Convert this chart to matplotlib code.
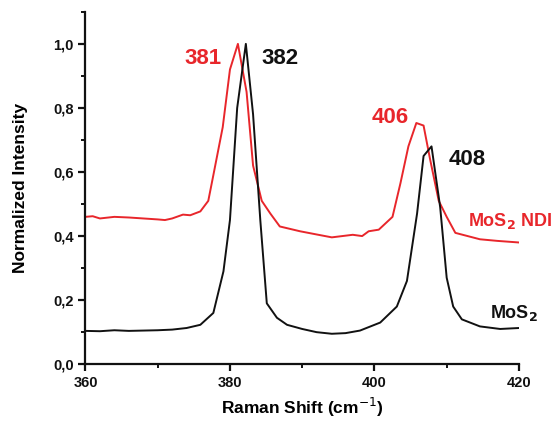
import matplotlib

matplotlib.use("Agg")
import matplotlib.pyplot as plt  # noqa: E402
from matplotlib.ticker import FuncFormatter, MultipleLocator  # noqa: E402

plt.rcParams["font.family"] = ["Liberation Sans", "DejaVu Sans"]

# MoS2 (black) spectrum
mos2_x = [360, 362, 364, 366, 368, 370, 372, 374, 375.9, 377.7, 379.1, 380.0, 381.0,
          382.2, 383.2, 384.2, 385.1, 386.5, 387.9, 390, 392, 394.1, 396, 398, 400.8,
          403.1, 404.5, 405.9, 406.8, 407.9, 409.1, 410.0, 410.9, 412.1, 414.6, 417.4, 420]
mos2_y = [0.104, 0.103, 0.106, 0.104, 0.105, 0.106, 0.108, 0.113, 0.123, 0.16, 0.29, 0.45,
          0.80, 1.00, 0.78, 0.45, 0.19, 0.145, 0.123, 0.11, 0.10, 0.095, 0.097, 0.105, 0.13,
          0.18, 0.26, 0.47, 0.65, 0.68, 0.49, 0.27, 0.18, 0.14, 0.118, 0.11, 0.113]

# MoS2 NDI (red) spectrum
ndi_x = [360, 361, 362, 364, 366, 368, 370, 371, 372, 373.5, 374.5, 375.9, 377.0, 377.7,
         379.0, 380.0, 381.1, 382.3, 383.2, 384.4, 385.6, 386.9, 389.7, 392, 394.1, 397.0,
         398.3, 399.2, 400.6, 402.5, 403.6, 404.7, 405.8, 406.8, 407.7, 408.9, 410.0,
         411.2, 414.6, 417, 420]
ndi_y = [0.46, 0.462, 0.455, 0.46, 0.458, 0.455, 0.452, 0.45, 0.455, 0.467, 0.465, 0.477,
         0.51, 0.59, 0.74, 0.92, 1.00, 0.85, 0.62, 0.51, 0.47, 0.43, 0.415, 0.405, 0.396,
         0.404, 0.40, 0.415, 0.42, 0.46, 0.565, 0.68, 0.753, 0.745, 0.64, 0.51, 0.46, 0.41,
         0.39, 0.385, 0.38]

RED = "#e8262b"
INK = "#111111"

fig = plt.figure(figsize=(5.55, 4.23), dpi=100)
ax = fig.add_axes([0.154, 0.139, 0.781, 0.833])

ax.plot(ndi_x, ndi_y, color=RED, lw=1.4)
ax.plot(mos2_x, mos2_y, color=INK, lw=1.4)

ax.set_xlim(360, 420)
ax.set_ylim(0, 1.1)
ax.xaxis.set_major_locator(MultipleLocator(20))
ax.xaxis.set_minor_locator(MultipleLocator(10))
ax.yaxis.set_major_locator(MultipleLocator(0.2))
ax.yaxis.set_minor_locator(MultipleLocator(0.1))
ax.yaxis.set_major_formatter(FuncFormatter(lambda v, _: f"{v:.1f}".replace(".", ",")))

for sp in ("top", "right"):
    ax.spines[sp].set_visible(False)
for sp in ("left", "bottom"):
    ax.spines[sp].set_linewidth(1.6)
    ax.spines[sp].set_color(INK)
ax.tick_params(which="major", direction="out", length=5, width=1.6, labelsize=10.5, colors=INK)
ax.tick_params(which="minor", direction="out", length=3, width=1.4, colors=INK)
for lab in ax.get_xticklabels() + ax.get_yticklabels():
    lab.set_fontweight("bold")

ax.set_xlabel("Raman Shift (cm$^{-1}$)", fontsize=12.5, fontweight="bold", labelpad=4)
ax.set_ylabel("Normalized Intensity", fontsize=12.5, fontweight="bold", labelpad=18)

ax.text(376.3, 0.955, "381", color=RED, fontsize=16, fontweight="bold", ha="center", va="center")
ax.text(386.9, 0.955, "382", color=INK, fontsize=16, fontweight="bold", ha="center", va="center")
ax.text(402.2, 0.77, "406", color=RED, fontsize=16, fontweight="bold", ha="center", va="center")
ax.text(412.8, 0.64, "408", color=INK, fontsize=16, fontweight="bold", ha="center", va="center")
ax.text(418.8, 0.446, "MoS$_\\mathbf{2}$ NDI", color=RED, fontsize=13, fontweight="bold",
        ha="center", va="center", clip_on=False)
ax.text(419.3, 0.16, "MoS$_\\mathbf{2}$", color=INK, fontsize=13, fontweight="bold",
        ha="center", va="center", clip_on=False)

fig.savefig("out.png", dpi=100)
